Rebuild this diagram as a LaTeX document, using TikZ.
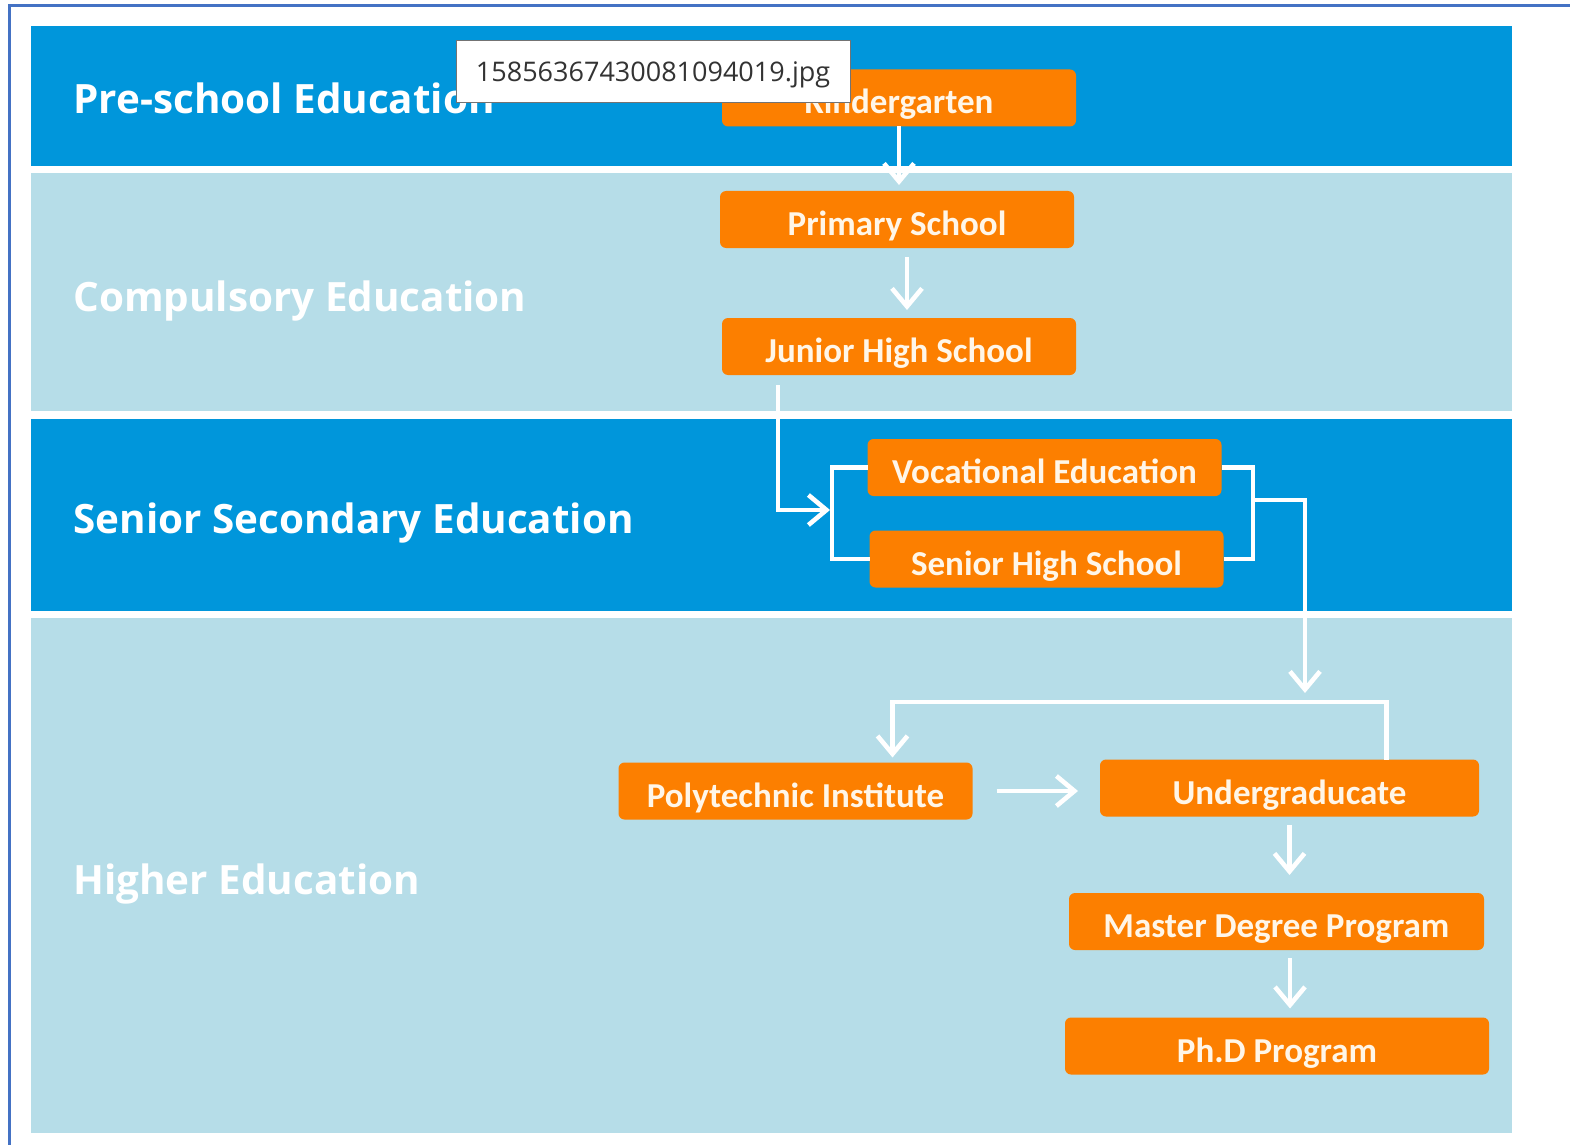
\documentclass[tikz,border=0pt]{standalone}
\usepackage{fontspec}
\setmainfont{Carlito}
\newfontfamily\bandfont{Open Sans}
\newfontfamily\tipfont{Open Sans}
\usetikzlibrary{positioning,calc,arrows.meta}

\definecolor{deepband}{RGB}{0,150,219}
\definecolor{paleband}{RGB}{182,221,232}
\definecolor{stage}{RGB}{252,127,0}
\definecolor{stagetext}{RGB}{255,246,232}
\definecolor{frame}{RGB}{68,114,196}

\begin{document}
\begin{tikzpicture}[x=0.5pt, y=-0.5pt,
	stagebox/.style={fill=stage, rounded corners=3pt, text=stagetext, font=\bfseries\fontsize{17.5}{20}\selectfont,
		text height=16pt, text depth=0pt,
		minimum width=177pt, minimum height=28.5pt, inner sep=0pt, outer sep=0pt},
	bandlabel/.style={anchor=base west, text=white, font=\bandfont\bfseries\fontsize{20.2}{24}\selectfont, inner sep=0pt},
	flow/.style={draw=white, line width=2.3pt, -{Straight Barb[length=9pt,width=15pt]}},
	link/.style={draw=white, line width=2.3pt},
	tip/.style={fill=white, draw=black!55, line width=0.5pt, text=black!80, font=\tipfont\fontsize{13.5}{16}\selectfont,
		text height=10pt, text depth=0pt, minimum width=197pt, minimum height=31pt, inner sep=0pt}]
	\useasboundingbox (0,0) rectangle (1570,1145);

	% bands
	\fill [deepband] (31,26) rectangle (1512,166);
	\fill [paleband] (31,173) rectangle (1512,411);
	\fill [deepband] (31,419) rectangle (1512,611);
	\fill [paleband] (31,618) rectangle (1512,1133);
	\draw [frame, line width=1.5pt] (9,1145) -- (9,6) -- (1570,6);

	\node [bandlabel] (pre) at (73,114) {Pre-school Education};
	\node [bandlabel] (comp) at (73,311) {Compulsory Education};
	\node [bandlabel] (senior) at (73,533) {Senior Secondary Education};
	\node [bandlabel] (higher) at (73,894) {Higher Education};

	% stages
	\node [stagebox] (kg) at (899,98) {Kindergarten};
	\node [stagebox] (ps) at (897,219.5) {Primary School};
	\node [stagebox] (jhs) at (899,346.5) {Junior High School};
	\node [stagebox] (voc) at (1044.5,467.5) {Vocational Education};
	\node [stagebox] (shs) at (1046.5,559) {Senior High School};
	\node [stagebox] (poly) at (795.5,791) {Polytechnic Institute};
	\node [stagebox, minimum width=189.5pt] (ug) at (1289.5,788) {Undergraducate};
	\node [stagebox, minimum width=207.5pt] (ms) at (1276.5,921.5) {Master Degree Program};
	\node [stagebox, minimum width=212pt] (phd) at (1277,1046) {Ph.D Program};

	\coordinate (lsplit) at (832,510);
	\coordinate (rsplit) at (1253,500);
	\coordinate (fork) at (1305,702);

	% connectors
	\draw [flow, shorten >=3pt] (kg.south) -- (kg.south |- ps.north);
	\draw [flow, shorten <=4.5pt, shorten >=4pt] ([xshift=5pt]ps.south) -- ([xshift=5pt]ps.south |- jhs.north);
	\draw [flow, shorten <=5pt, shorten >=1pt] ([xshift=-60.5pt]jhs.south) |- (lsplit);
	\draw [link] (voc.west) -| (lsplit) |- (shs.west);
	\draw [link] (voc.east) -| (rsplit) |- (shs.east);
	\draw [flow, shorten >=4.5pt] (rsplit) -| (fork);
	\draw [flow, shorten >=2.5pt] ([xshift=48.5pt]ug.north) |- (fork) -| ([xshift=48.5pt]poly.north);
	\draw [flow, shorten <=12pt, shorten >=11pt] (poly.east) -- (poly.east -| ug.west);
	\draw [flow, shorten <=4pt, shorten >=9pt] (ug.south) -- (ug.south |- ms.north);
	\draw [flow, shorten <=4pt, shorten >=4.5pt] ([xshift=6.75pt]ms.south) -- ([xshift=6.75pt]ms.south |- phd.north);

	\node [tip] (fname) at (653,72) {15856367430081094019.jpg};
\end{tikzpicture}
\end{document}
